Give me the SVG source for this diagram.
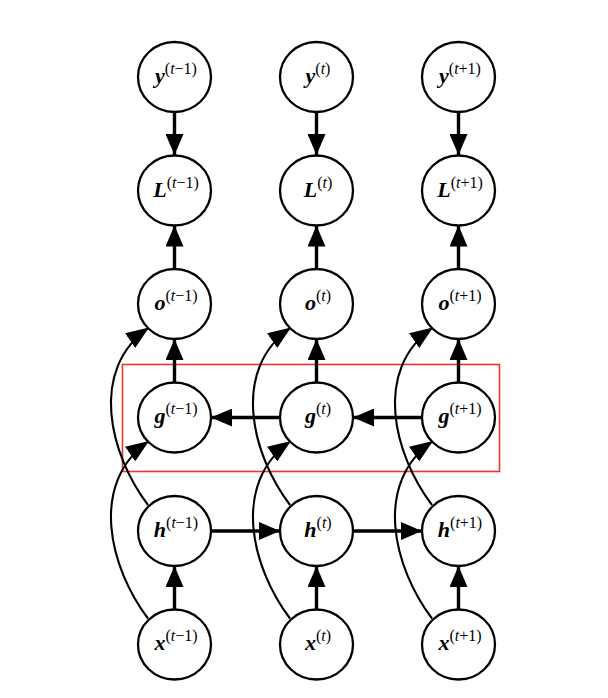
<svg xmlns="http://www.w3.org/2000/svg" width="608" height="698" viewBox="0 0 608 698">
<style>
.n ellipse{fill:#fff;stroke:#000;stroke-width:2.3}
.lbl{font-family:"Liberation Serif","DejaVu Serif",serif;text-anchor:middle;fill:#000}
.v{font-weight:bold;font-style:italic;font-size:22px}
.s{font-size:16px}
.i{font-style:italic}
.thick{fill:none;stroke:#000;stroke-width:3.4}
.thin{fill:none;stroke:#000;stroke-width:2.1}
</style>
<defs>
<marker id="ah" markerUnits="userSpaceOnUse" markerWidth="22" markerHeight="18" viewBox="0 0 21 18" refX="21" refY="9" orient="auto">
<path d="M0,0 L21,9 L0,18 z" fill="#000"/>
</marker>
<marker id="ahs" markerUnits="userSpaceOnUse" markerWidth="23" markerHeight="18" viewBox="0 0 22 17" refX="22" refY="8.5" orient="auto">
<path d="M0,0 L22,8.5 L0,17 z" fill="#000"/>
</marker>
</defs>
<rect x="122.5" y="364.5" width="377" height="107" fill="none" stroke="#e03a2e" stroke-width="1.6"/>
<g id="connectors">
<g class="thick">
<path d="M174.5,112 V155" marker-end="url(#ah)"/>
<path d="M316.5,112 V155" marker-end="url(#ah)"/>
<path d="M458.5,112 V155" marker-end="url(#ah)"/>
<path d="M174.5,269 V225.5" marker-end="url(#ah)"/>
<path d="M316.5,269 V225.5" marker-end="url(#ah)"/>
<path d="M458.5,269 V225.5" marker-end="url(#ah)"/>
<path d="M174.5,382.5 V339" marker-end="url(#ah)"/>
<path d="M316.5,382.5 V339" marker-end="url(#ah)"/>
<path d="M458.5,382.5 V339" marker-end="url(#ah)"/>
<path d="M174.5,609.5 V566" marker-end="url(#ah)"/>
<path d="M316.5,609.5 V566" marker-end="url(#ah)"/>
<path d="M458.5,609.5 V566" marker-end="url(#ah)"/>
<path d="M211,531 H280" marker-end="url(#ah)"/>
<path d="M353,531 H422" marker-end="url(#ah)"/>
<path d="M280,417.5 H211" marker-end="url(#ah)"/>
<path d="M422,417.5 H353" marker-end="url(#ah)"/>
</g>
<g class="thin">
<path d="M148,505 C110,455 88,370 149,327.5" marker-end="url(#ahs)"/>
<path d="M148,618.5 C110,568.5 88,483.5 149,441" marker-end="url(#ahs)"/>
<path d="M290,505 C252,455 230,370 291,327.5" marker-end="url(#ahs)"/>
<path d="M290,618.5 C252,568.5 230,483.5 291,441" marker-end="url(#ahs)"/>
<path d="M432,505 C394,455 372,370 433,327.5" marker-end="url(#ahs)"/>
<path d="M432,618.5 C394,568.5 372,483.5 433,441" marker-end="url(#ahs)"/>
</g>
</g>
<g id="y_tm1" class="n"><ellipse cx="174.5" cy="77" rx="36.5" ry="35"/><text class="lbl" x="176" y="83"><tspan class="v">y</tspan><tspan class="s" dy="-9">(<tspan class="i">t</tspan>−1)</tspan></text></g>
<g id="y_t" class="n"><ellipse cx="316.5" cy="77" rx="36.5" ry="35"/><text class="lbl" x="318" y="83"><tspan class="v">y</tspan><tspan class="s" dy="-9">(<tspan class="i">t</tspan>)</tspan></text></g>
<g id="y_tp1" class="n"><ellipse cx="458.5" cy="77" rx="36.5" ry="35"/><text class="lbl" x="460" y="83"><tspan class="v">y</tspan><tspan class="s" dy="-9">(<tspan class="i">t</tspan>+1)</tspan></text></g>

<g id="L_tm1" class="n"><ellipse cx="174.5" cy="190.5" rx="36.5" ry="35"/><text class="lbl" x="176" y="197"><tspan class="v">L</tspan><tspan class="s" dy="-9">(<tspan class="i">t</tspan>−1)</tspan></text></g>
<g id="L_t" class="n"><ellipse cx="316.5" cy="190.5" rx="36.5" ry="35"/><text class="lbl" x="318" y="197"><tspan class="v">L</tspan><tspan class="s" dy="-9">(<tspan class="i">t</tspan>)</tspan></text></g>
<g id="L_tp1" class="n"><ellipse cx="458.5" cy="190.5" rx="36.5" ry="35"/><text class="lbl" x="460" y="197"><tspan class="v">L</tspan><tspan class="s" dy="-9">(<tspan class="i">t</tspan>+1)</tspan></text></g>

<g id="o_tm1" class="n"><ellipse cx="174.5" cy="304" rx="36.5" ry="35"/><text class="lbl" x="176" y="310"><tspan class="v">o</tspan><tspan class="s" dy="-9">(<tspan class="i">t</tspan>−1)</tspan></text></g>
<g id="o_t" class="n"><ellipse cx="316.5" cy="304" rx="36.5" ry="35"/><text class="lbl" x="318" y="310"><tspan class="v">o</tspan><tspan class="s" dy="-9">(<tspan class="i">t</tspan>)</tspan></text></g>
<g id="o_tp1" class="n"><ellipse cx="458.5" cy="304" rx="36.5" ry="35"/><text class="lbl" x="460" y="310"><tspan class="v">o</tspan><tspan class="s" dy="-9">(<tspan class="i">t</tspan>+1)</tspan></text></g>

<g id="g_tm1" class="n"><ellipse cx="174.5" cy="417.5" rx="36.5" ry="35"/><text class="lbl" x="176" y="423"><tspan class="v">g</tspan><tspan class="s" dy="-9">(<tspan class="i">t</tspan>−1)</tspan></text></g>
<g id="g_t" class="n"><ellipse cx="316.5" cy="417.5" rx="36.5" ry="35"/><text class="lbl" x="318" y="423"><tspan class="v">g</tspan><tspan class="s" dy="-9">(<tspan class="i">t</tspan>)</tspan></text></g>
<g id="g_tp1" class="n"><ellipse cx="458.5" cy="417.5" rx="36.5" ry="35"/><text class="lbl" x="460" y="423"><tspan class="v">g</tspan><tspan class="s" dy="-9">(<tspan class="i">t</tspan>+1)</tspan></text></g>

<g id="h_tm1" class="n"><ellipse cx="174.5" cy="531" rx="36.5" ry="35"/><text class="lbl" x="176" y="537"><tspan class="v">h</tspan><tspan class="s" dy="-9">(<tspan class="i">t</tspan>−1)</tspan></text></g>
<g id="h_t" class="n"><ellipse cx="316.5" cy="531" rx="36.5" ry="35"/><text class="lbl" x="318" y="537"><tspan class="v">h</tspan><tspan class="s" dy="-9">(<tspan class="i">t</tspan>)</tspan></text></g>
<g id="h_tp1" class="n"><ellipse cx="458.5" cy="531" rx="36.5" ry="35"/><text class="lbl" x="460" y="537"><tspan class="v">h</tspan><tspan class="s" dy="-9">(<tspan class="i">t</tspan>+1)</tspan></text></g>

<g id="x_tm1" class="n"><ellipse cx="174.5" cy="644.5" rx="36.5" ry="35"/><text class="lbl" x="176" y="650"><tspan class="v">x</tspan><tspan class="s" dy="-9">(<tspan class="i">t</tspan>−1)</tspan></text></g>
<g id="x_t" class="n"><ellipse cx="316.5" cy="644.5" rx="36.5" ry="35"/><text class="lbl" x="318" y="650"><tspan class="v">x</tspan><tspan class="s" dy="-9">(<tspan class="i">t</tspan>)</tspan></text></g>
<g id="x_tp1" class="n"><ellipse cx="458.5" cy="644.5" rx="36.5" ry="35"/><text class="lbl" x="460" y="650"><tspan class="v">x</tspan><tspan class="s" dy="-9">(<tspan class="i">t</tspan>+1)</tspan></text></g>
</svg>
